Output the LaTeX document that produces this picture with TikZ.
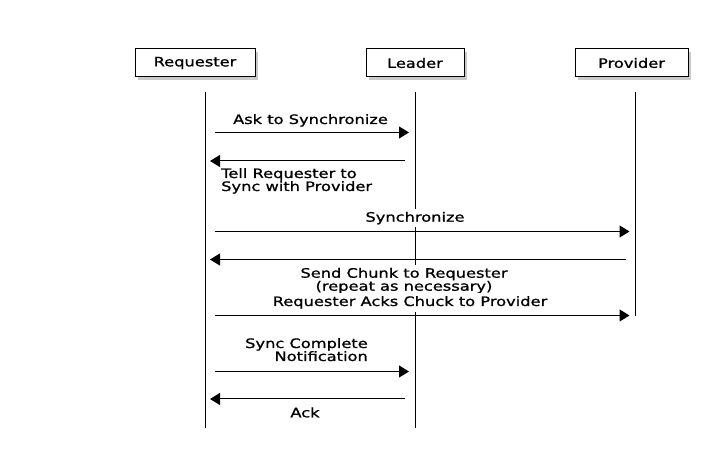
\documentclass[tikz,border=0pt]{standalone}
\usepackage{fontspec}
\setmainfont{DejaVu Sans}[FakeStretch=1.25,FakeBold=1]
\usetikzlibrary{arrows.meta}
\usetikzlibrary{shadows}

\begin{document}
\begin{tikzpicture}[x=1pt,y=-1pt,font=\fontsize{13}{13}\selectfont,
	entity/.style={draw,line width=1pt,fill=white,inner sep=0pt,minimum height=28pt,
		drop shadow={shadow xshift=3pt,shadow yshift=-3pt,opacity=0.35,fill=black!60}},
	lifeline/.style={draw=black,line width=1pt},
	msg/.style={draw=black,line width=1pt,-{Triangle[length=10pt,width=12pt]},shorten <=9pt,shorten >=6pt},
	reply/.style={draw=black,line width=1pt,-{Triangle[length=10pt,width=12pt]},shorten <=10pt,shorten >=4.5pt},
	label/.style={inner sep=1pt},
	coverlabel/.style={inner sep=3pt,fill=white}]
		\useasboundingbox (0,0) rectangle (710,462);
		% entities
		\node[entity,minimum width=120pt] (req) at (195,63) {Requester};
		\node[entity,minimum width=98pt] (lea) at (415,63) {Leader};
		\node[entity,minimum width=113pt] (pro) at (631.5,63) {Provider};
		% lifelines
		\coordinate (reqtop) at (205.5,92);
		\coordinate (reqbot) at (205.5,428);
		\coordinate (leatop) at (415,92);
		\coordinate (leabot) at (415,428);
		\coordinate (protop) at (635.5,92);
		\coordinate (probot) at (635.5,316);
		\path (reqtop) edge[lifeline] (reqbot);
		\path (leatop) edge[lifeline] (leabot);
		\path (protop) edge[lifeline] (probot);
		% message points
		\coordinate (req1) at (205.5,132.5); \coordinate (lea1) at (415,132.5);
		\coordinate (req2) at (205.5,161);   \coordinate (lea2) at (415,161);
		\coordinate (req3) at (205.5,231.5); \coordinate (pro3) at (635.5,231.5);
		\coordinate (req4) at (205.5,259.5); \coordinate (pro4) at (635.5,259.5);
		\coordinate (req5) at (205.5,315.5); \coordinate (pro5) at (635.5,315.5);
		\coordinate (req6) at (205.5,371.5); \coordinate (lea6) at (415,371.5);
		\coordinate (req7) at (205.5,399);   \coordinate (lea7) at (415,399);
		% messages
		\draw[msg] (req1) -- (lea1);
		\draw[reply] (lea2) -- (req2);
		\draw[msg] (req3) -- (pro3);
		\draw[reply] (pro4) -- (req4);
		\draw[msg] (req5) -- (pro5);
		\draw[msg] (req6) -- (lea6);
		\draw[reply] (lea7) -- (req7);
		% labels (base = last line)
		\node[label,anchor=base] (askl) at (310.5,124) {Ask to Synchronize};
		\node[label,anchor=base west,align=left] (telll) at (220,191) {Tell Requester to\\Sync with Provider};
		\node[coverlabel,anchor=base] (syncl) at (415,221.7) {Synchronize};
		\node[coverlabel,anchor=base,align=center] (chunkl) at (404,290.7) {Send Chunk to Requester\\(repeat as necessary)};
		\node[coverlabel,anchor=base] (ackchunkl) at (410,306) {Requester Acks Chuck to Provider};
		\node[label,anchor=base east,align=right] (notel) at (369,361) {Sync Complete\\Notification};
		\node[label,anchor=base] (ackl) at (305,417.3) {Ack};
\end{tikzpicture}
\end{document}
